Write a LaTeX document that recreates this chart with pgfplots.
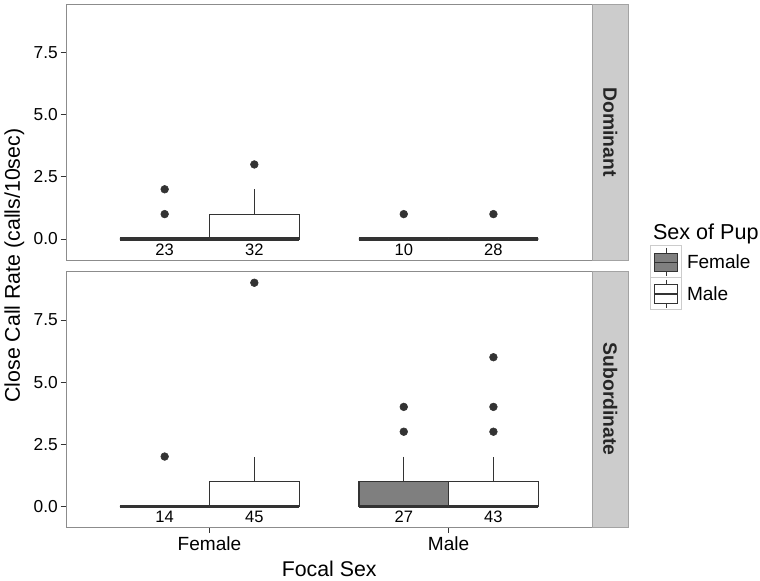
\documentclass[border=0pt]{standalone}
\usepackage{pgfplots}
\pgfplotsset{compat=1.18}
\usepgfplotslibrary{statistics}
\usepackage{fontspec}
\setmainfont{Liberation Sans}
\definecolor{dk}{HTML}{333333}
\definecolor{fgray}{HTML}{7F7F7F}
\definecolor{bord}{HTML}{8C8C8C}
\definecolor{stripc}{HTML}{CCCCCC}
\definecolor{keyb}{HTML}{CCCCCC}

\pgfplotsset{
 panel/.style={
  scale only axis, width=394.7pt, height=191.8pt,
  xmin=0.4, xmax=2.6, ymin=-0.845, ymax=9.45,
  axis line style={bord, line width=0.6pt},
  ytick={0,2.5,5,7.5}, yticklabels={0.0,2.5,5.0,7.5},
  tick align=outside, major tick length=4pt,
  tick style={dk, line width=0.6pt},
  xtick pos=left, ytick pos=left,
  yticklabel style={font=\fontsize{13}{13}\selectfont, inner sep=0pt, xshift=-2pt},
  xticklabel style={font=\fontsize{14.3}{14.3}\selectfont, inner sep=0pt, yshift=-3pt},
  boxplot/draw direction=y,
  boxplot/every median/.style={line width=2.4pt},
  boxplot/every whisker/.style={line width=0.9pt},
  boxplot/every box/.style={line width=0.9pt},
  boxplot/whisker extend=0,
 },
 bx/.style={draw=dk, line width=0.9pt, fill=#1},
 outl/.style={only marks, mark=*, mark size=2.9pt, color=dk, mark options={fill=dk, draw=dk}},
}
\newcommand{\cnt}[3]{\node[font=\fontsize{12.4}{12.4}\selectfont, text=black] at (axis cs:#1,#2) {#3};}

\begin{document}
\begin{tikzpicture}
\begin{scope}[x=0.75pt, y=-0.75pt]
\useasboundingbox (0,0) rectangle (760,581);
\end{scope}

% ---------- Dominant ----------
\begin{axis}[panel, at={(49.275pt,-3.225pt)}, anchor=north west, xtick=\empty]
 % Female focal, Female pup (n=23)
 \addplot[bx=fgray, boxplot prepared={draw position=0.8125, box extend=0.375,
   lower whisker=0, lower quartile=0, median=0, upper quartile=0, upper whisker=0}] coordinates {};
 % Female focal, Male pup (n=32)
 \addplot[bx=white, boxplot prepared={draw position=1.1875, box extend=0.375,
   lower whisker=0, lower quartile=0, median=0, upper quartile=1, upper whisker=2}] coordinates {};
 % Male focal, Female pup (n=10)
 \addplot[bx=fgray, boxplot prepared={draw position=1.8125, box extend=0.375,
   lower whisker=0, lower quartile=0, median=0, upper quartile=0, upper whisker=0}] coordinates {};
 % Male focal, Male pup (n=28)
 \addplot[bx=white, boxplot prepared={draw position=2.1875, box extend=0.375,
   lower whisker=0, lower quartile=0, median=0, upper quartile=0, upper whisker=0}] coordinates {};
 \addplot[outl] coordinates {(0.8125,1) (0.8125,2) (1.1875,3) (1.8125,1) (2.1875,1)};
 \cnt{0.8125}{-0.44}{23}
 \cnt{1.1875}{-0.44}{32}
 \cnt{1.8125}{-0.44}{10}
 \cnt{2.1875}{-0.44}{28}
\end{axis}

% ---------- Subordinate ----------
\begin{axis}[panel, at={(49.275pt,-203.775pt)}, anchor=north west,
  xtick={1,2}, xticklabels={Female,Male}]
 % Female focal, Female pup (n=14)
 \addplot[bx=fgray, boxplot prepared={draw position=0.8125, box extend=0.375,
   lower whisker=0, lower quartile=0, median=0, upper quartile=0, upper whisker=0}] coordinates {};
 % Female focal, Male pup (n=45)
 \addplot[bx=white, boxplot prepared={draw position=1.1875, box extend=0.375,
   lower whisker=0, lower quartile=0, median=0, upper quartile=1, upper whisker=2}] coordinates {};
 % Male focal, Female pup (n=27)
 \addplot[bx=fgray, boxplot prepared={draw position=1.8125, box extend=0.375,
   lower whisker=0, lower quartile=0, median=0, upper quartile=1, upper whisker=2}] coordinates {};
 % Male focal, Male pup (n=43)
 \addplot[bx=white, boxplot prepared={draw position=2.1875, box extend=0.375,
   lower whisker=0, lower quartile=0, median=0, upper quartile=1, upper whisker=2}] coordinates {};
 \addplot[outl] coordinates {(0.8125,2) (1.1875,9) (1.8125,3) (1.8125,4) (2.1875,3) (2.1875,4) (2.1875,6)};
 \cnt{0.8125}{-0.44}{14}
 \cnt{1.1875}{-0.44}{45}
 \cnt{1.8125}{-0.44}{27}
 \cnt{2.1875}{-0.44}{43}
\end{axis}

\begin{scope}[x=0.75pt, y=-0.75pt]
 % strips
 \draw[fill=stripc, draw=stripc!80!black, line width=0.5pt] (592,4.3) rectangle (628.3,260);
 \draw[fill=stripc, draw=stripc!80!black, line width=0.5pt] (592,271.7) rectangle (628.3,527.3);
 \node[rotate=-90, font=\bfseries\fontsize{14.5}{14.5}\selectfont, text=black!85] at (610.2,132.2) {Dominant};
 \node[rotate=-90, font=\bfseries\fontsize{14.5}{14.5}\selectfont, text=black!85] at (610.2,399.5) {Subordinate};
 % axis titles
 \node[rotate=90, font=\fontsize{16}{16}\selectfont] at (14,265.8) {Close Call Rate (calls/10sec)};
 \node[font=\fontsize{16}{16}\selectfont] at (329,569) {Focal Sex};
 % legend
 \node[anchor=base west, inner sep=0pt, font=\fontsize{16.2}{16.2}\selectfont] at (652.7,239.3) {Sex of Pup};
 \draw[keyb, line width=0.6pt, fill=white] (650.7,246) rectangle (681.7,277.7);
 \draw[keyb, line width=0.6pt, fill=white] (650.7,277.7) rectangle (681.7,309.4);
 \draw[dk, line width=0.8pt] (666.2,248) -- (666.2,253.3) (666.2,271.7) -- (666.2,276.5);
 \draw[dk, line width=0.8pt, fill=fgray] (654.5,253.3) rectangle (677.9,271.7);
 \draw[dk, line width=1.2pt] (654.5,262.5) -- (677.9,262.5);
 \draw[dk, line width=0.8pt] (666.2,279.7) -- (666.2,285) (666.2,303.4) -- (666.2,308.2);
 \draw[dk, line width=0.8pt, fill=white] (654.5,285) rectangle (677.9,303.4);
 \draw[dk, line width=1.2pt] (654.5,294.2) -- (677.9,294.2);
 \node[anchor=west, inner sep=0pt, font=\fontsize{14.3}{14.3}\selectfont] at (686.7,262) {Female};
 \node[anchor=west, inner sep=0pt, font=\fontsize{14.3}{14.3}\selectfont] at (686.7,293.7) {Male};
\end{scope}
\end{tikzpicture}
\end{document}
